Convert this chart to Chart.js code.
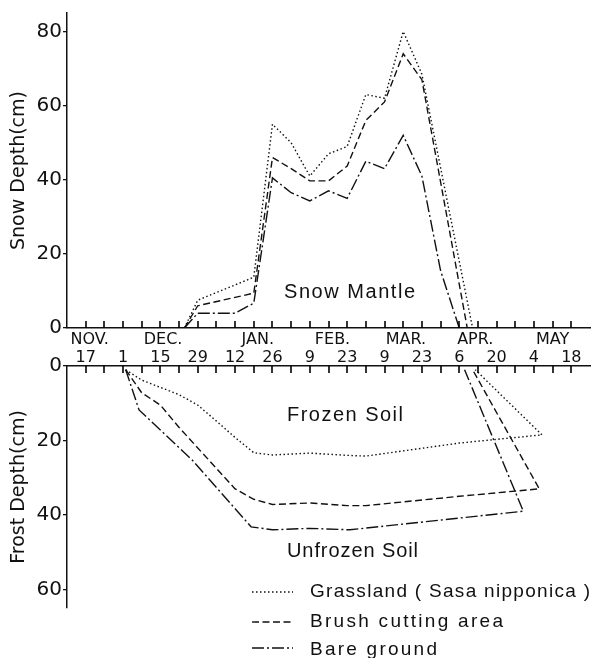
<!DOCTYPE html>
<html lang="en">
<head>
<meta charset="UTF-8">
<title>Snow depth and frost depth</title>
<style>
  html, body { margin:0; padding:0; background:#fff; }
  #wrap { position:relative; width:591px; height:658px; overflow:hidden; }
  #snowChart { position:absolute; left:0; top:0; }
  #frostChart { position:absolute; left:0; top:346px; }
  #notes { position:absolute; left:0; top:0; pointer-events:none; }
  #notes text { font-family:"Liberation Sans", Arial, sans-serif; fill:#111; }
</style>
</head>
<body>
<div id="wrap">
  <canvas id="snowChart" width="591" height="372"></canvas>
  <canvas id="frostChart" width="591" height="312"></canvas>
  <svg id="notes" width="591" height="658">
    <text x="284" y="298" font-size="20" textLength="131" lengthAdjust="spacing">Snow Mantle</text>
    <text x="287" y="421" font-size="20" textLength="116" lengthAdjust="spacing">Frozen Soil</text>
    <text x="287" y="557" font-size="20" textLength="131" lengthAdjust="spacing">Unfrozen Soil</text>
    <line x1="252" y1="592" x2="293" y2="592" stroke="#111" stroke-width="1.4" stroke-dasharray="1.5 2.5"/>
    <line x1="252" y1="622" x2="293" y2="622" stroke="#111" stroke-width="1.4" stroke-dasharray="7 3.5"/>
    <line x1="252" y1="648" x2="293" y2="648" stroke="#111" stroke-width="1.4" stroke-dasharray="12 3 2 3"/>
    <text x="310" y="597" font-size="19" textLength="280" lengthAdjust="spacing">Grassland ( Sasa nipponica )</text>
    <text x="310" y="627" font-size="19" textLength="193" lengthAdjust="spacing">Brush cutting area</text>
    <text x="310" y="655" font-size="19" textLength="127" lengthAdjust="spacing">Bare ground</text>
  </svg>
</div>
<script src="https://cdn.jsdelivr.net/npm/chart.js"></script>
<script>
  // x = days counted from Nov. 17
  const dayTicks = [0, 14, 28, 42, 56, 70, 84, 98, 112, 126, 140, 154, 168, 182]
  const dayNames = ['17', '1', '15', '29', '12', '26', '9', '23', '9', '23', '6', '20', '4', '18']
  const monthPos = [1.5, 29, 64.5, 92.5, 120, 146, 175]
  const monthNames = ['NOV.', 'DEC.', 'JAN.', 'FEB.', 'MAR.', 'APR.', 'MAY']

  // snow depth (cm)
  const snowDaysGrass = [37, 42, 63, 70, 77, 84, 91, 98, 105, 112, 119, 126, 145]
  const snowGrass     = [0, 7.5, 13.7, 55, 50, 41, 47, 49, 63, 62, 80, 68.5, 0]
  const snowDaysBrush = [37, 42, 63, 70, 77, 84, 91, 98, 105, 112, 119, 126, 143]
  const snowBrush     = [0, 6, 9.4, 46, 43, 39.7, 39.7, 43.7, 56, 61, 74, 67, 0]
  const snowDaysBare  = [37, 42, 56, 63, 70, 77, 84, 91, 98, 105, 112, 119, 126, 133, 140]
  const snowBare      = [0, 4, 4, 6.7, 40.5, 36.5, 34.3, 37, 35, 45, 43, 52, 41, 15.5, 0]

  // frost depth (cm), the last point closes the thaw from the surface
  const frostDaysGrass = [15, 21, 35, 42, 49, 56, 63, 70, 84, 98, 105, 140, 171, 146]
  const frostGrass     = [1, 3.8, 7.7, 10.5, 14.8, 19.2, 23.3, 23.9, 23.4, 24, 24.2, 20.7, 18.5, 1]
  const frostDaysBrush = [15, 21, 28, 35, 42, 49, 56, 63, 70, 84, 98, 105, 140, 170, 145]
  const frostBrush     = [1, 7.2, 10.5, 16.5, 22, 27.5, 33, 35.8, 37.2, 36.8, 37.5, 37.5, 35, 33, 1]
  const frostDaysBare  = [15, 20, 40, 62, 70, 84, 99, 164, 142]
  const frostBare      = [1, 11.8, 25.3, 43.2, 44, 43.6, 44, 39, 1]

  const snowTicks = [0, 20, 40, 60, 80]
  const frostTicks = [0, 20, 40, 60]

  const ink = '#111'
  const dotted = [1.5, 2.5]
  const dashed = [7, 3.5]
  const dashDot = [12, 3, 2, 3]

  function pts(xs, ys) {
    return xs.map((x, i) => ({x: x, y: ys[i]}))
  }
  function line(label, xs, ys, dash) {
    return {label: label, data: pts(xs, ys), borderColor: ink, borderWidth: 1.4,
      borderDash: dash, pointRadius: 0, tension: 0, fill: false}
  }

  // small inward ticks every 7 days on the shared date axis
  function weekTicks(axisId, dir) {
    return {
      id: 'weekTicks' + axisId,
      afterDraw(chart) {
        const sx = chart.scales[axisId]
        const ctx = chart.ctx
        const y0 = dir < 0 ? chart.chartArea.bottom : chart.chartArea.top
        ctx.save()
        ctx.strokeStyle = '#000'
        ctx.lineWidth = 1.6
        ctx.setLineDash([])
        for (let d = 0; d <= 182; d += 7) {
          const px = Math.round(sx.getPixelForValue(d))
          ctx.beginPath()
          ctx.moveTo(px, y0)
          ctx.lineTo(px, y0 + dir * 7)
          ctx.stroke()
        }
        ctx.restore()
      }
    }
  }

  const tickFont = {family: 'DejaVu Sans', size: 20}
  const dateFont = {family: 'DejaVu Sans', size: 16}
  const titleFont = {family: 'DejaVu Sans', size: 19}

  new Chart(document.getElementById('snowChart'), {
    type: 'line',
    data: {
      datasets: [
        line('Grassland ( Sasa nipponica )', snowDaysGrass, snowGrass, dotted),
        line('Brush cutting area', snowDaysBrush, snowBrush, dashed),
        line('Bare ground', snowDaysBare, snowBare, dashDot)
      ]
    },
    options: {
      responsive: false,
      animation: false,
      devicePixelRatio: 1,
      layout: {padding: {top: 12, right: 1, bottom: 4, left: 0}},
      plugins: {legend: {display: false}, tooltip: {enabled: false}},
      scales: {
        xm: {
          type: 'linear', position: 'bottom', min: -7, max: 189, weight: 0,
          afterBuildTicks: s => { s.ticks = monthPos.map(v => ({value: v})) },
          afterFit: s => { s.height = 20 },
          ticks: {callback: (v, i) => monthNames[i], autoSkip: false, maxRotation: 0,
            padding: 2, color: ink, font: dateFont},
          grid: {display: false, drawTicks: false},
          border: {display: true, color: ink, width: 1.5}
        },
        x: {
          type: 'linear', position: 'bottom', min: -7, max: 189, weight: 1,
          afterBuildTicks: s => { s.ticks = dayTicks.map(v => ({value: v})) },
          afterFit: s => { s.height = 20 },
          ticks: {callback: (v, i) => dayNames[i], autoSkip: false, maxRotation: 0,
            padding: 0, color: ink, font: dateFont},
          grid: {display: false, drawTicks: false},
          border: {display: false}
        },
        y: {
          min: 0, max: 85,
          afterBuildTicks: s => { s.ticks = snowTicks.map(v => ({value: v})) },
          afterFit: s => { s.width = 67 },
          ticks: {padding: 1, color: ink, font: tickFont},
          grid: {drawOnChartArea: false, drawTicks: true, tickLength: 4, color: ink, lineWidth: 1.3},
          border: {display: true, color: ink, width: 1.5},
          title: {display: true, text: 'Snow Depth(cm)', color: ink, font: titleFont, padding: {top: 8}}
        }
      }
    },
    plugins: [weekTicks('xm', -1)]
  })

  new Chart(document.getElementById('frostChart'), {
    type: 'line',
    data: {
      datasets: [
        line('Grassland ( Sasa nipponica )', frostDaysGrass, frostGrass, dotted),
        line('Brush cutting area', frostDaysBrush, frostBrush, dashed),
        line('Bare ground', frostDaysBare, frostBare, dashDot)
      ]
    },
    options: {
      responsive: false,
      animation: false,
      devicePixelRatio: 1,
      layout: {padding: {top: 20, right: 1, bottom: 50, left: 0}},
      plugins: {legend: {display: false}, tooltip: {enabled: false}},
      scales: {
        x: {
          type: 'linear', position: 'top', min: -7, max: 189,
          ticks: {display: false},
          grid: {display: false, drawTicks: false},
          border: {display: true, color: ink, width: 1.5}
        },
        y: {
          reverse: true, min: 0, max: 65,
          afterBuildTicks: s => { s.ticks = frostTicks.map(v => ({value: v})) },
          afterFit: s => { s.width = 67 },
          ticks: {padding: 1, color: ink, font: tickFont},
          grid: {drawOnChartArea: false, drawTicks: true, tickLength: 4, color: ink, lineWidth: 1.3},
          border: {display: true, color: ink, width: 1.5},
          title: {display: true, text: 'Frost Depth(cm)', color: ink, font: titleFont, padding: {top: 8}}
        }
      }
    },
    plugins: [weekTicks('x', 1)]
  })
</script>
</body>
</html>
